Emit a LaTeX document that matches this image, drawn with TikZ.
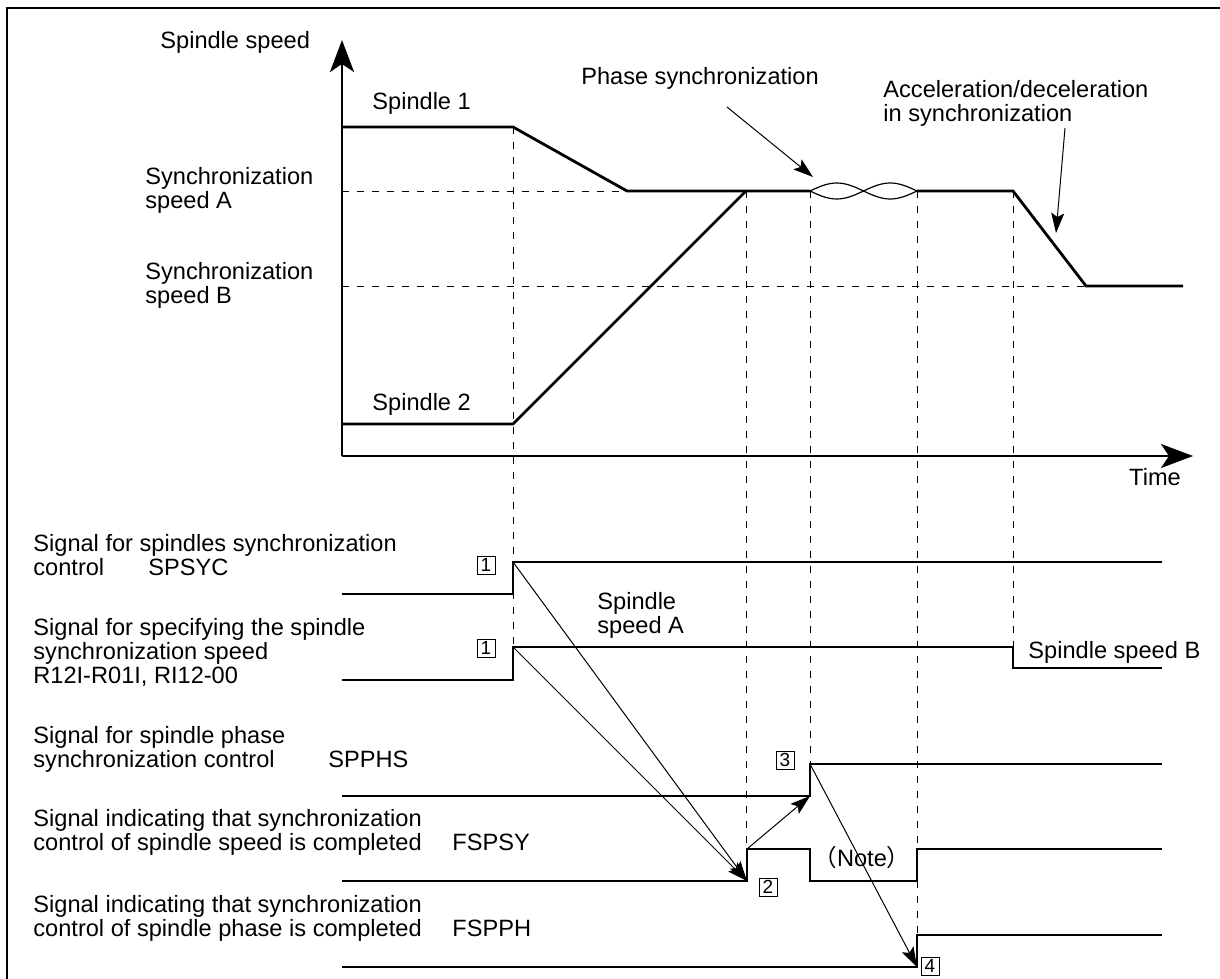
\documentclass[tikz,border=0pt]{standalone}
\usepackage{fontspec}
\setmainfont{Liberation Sans}
\newfontfamily\cjkfont{Noto Sans CJK JP}
\usetikzlibrary{arrows.meta}
\begin{document}
\begin{tikzpicture}[x=0.5pt,y=-0.5pt,
  sig/.style={line width=1.4pt,line join=miter},
  axis/.style={line width=1.4pt,-{Stealth[length=16pt,width=12pt,inset=4pt]}},
  guide/.style={line width=0.5pt,dash pattern=on 3.5pt off 4pt},
  ptr/.style={line width=0.5pt,-{Stealth[length=10pt,width=6.5pt,inset=2pt]}},
  lbl/.style={font=\fontsize{11.8}{12}\selectfont, inner sep=0pt, align=left, anchor=west},
  bl/.style={font=\fontsize{11.8}{12}\selectfont, inner sep=0pt, anchor=base west},
  num/.style={draw,line width=0.4pt,minimum size=9pt,inner sep=0pt,font=\fontsize{9.5}{10}\selectfont}
]
\useasboundingbox (0,0) rectangle (1220,979);
\draw[line width=0.6pt] (7,979) -- (7,8) -- (1220,8);

% axes
\coordinate (O) at (342,456);
\coordinate (Ytop) at (342,40);
\coordinate (Xend) at (1193,456);
\draw[axis] (O) -- (Ytop);
\draw[axis] (O) -- (Xend);

% guides
\draw[guide] (342,191) -- (627,191);
\draw[guide] (342,286) -- (1086,286);
\draw[guide] (513,127) -- (513,647);
\draw[guide] (746,191) -- (746,849);
\draw[guide] (810,191) -- (810,764);
\draw[guide] (917,191) -- (917,935);
\draw[guide] (1013,191) -- (1013,647);

% spindle speeds
\draw[sig] (342,127) -- (513,127) -- (627,191) -- (810,191);
\draw[sig] (917,191) -- (1013,191) -- (1086,286) -- (1183,286);
\draw[sig] (342,424) -- (513,424) -- (746,191);
\draw[line width=0.6pt] (810,191) sin (836.75,183) cos (863.5,191) sin (890.25,183) cos (917,191);
\draw[line width=0.6pt] (810,191) sin (836.75,199) cos (863.5,191) sin (890.25,199) cos (917,191);

% signals
\draw[sig] (342,594) -- (513,594) -- (513,562) -- (1162,562);
\draw[sig] (342,680) -- (513,680) -- (513,647) -- (1013,647) -- (1013,668) -- (1162,668);
\draw[sig] (342,796) -- (810,796) -- (810,764) -- (1162,764);
\draw[sig] (342,881) -- (747,881) -- (747,849) -- (810,849) -- (810,881) -- (917,881) -- (917,849) -- (1162,849);
\draw[sig] (342,967) -- (917,967) -- (917,935) -- (1162,935);

% labels top
\node[lbl] (ysp) at (160,42) {Spindle speed};
\node[lbl] (sp1) at (372,103) {Spindle 1};
\node[lbl] (sp2) at (372,404) {Spindle 2};
\node[lbl] (ssa) at (145,190) {Synchronization\\speed A};
\node[lbl] (ssb) at (145,285) {Synchronization\\speed B};
\node[lbl,anchor=center] (phs) at (700,78) {Phase synchronization};
\node[lbl] (acc) at (883,103) {Acceleration/deceleration\\in synchronization};
\node[lbl,anchor=center] (time) at (1155,477) {Time};

\coordinate (phsS) at (727,107);
\coordinate (phsE) at (813,177);
\draw[ptr] (phsS) -- (phsE);
\coordinate (accS) at (1065,128);
\coordinate (accE) at (1056,233);
\draw[ptr] (accS) -- (accE);

% signal labels
\node[bl] (l1a) at (33,551) {Signal for spindles synchronization};
\node[bl] (l1b) at (33,575) {control};
\node[bl] (n1) at (148,575) {SPSYC};
\node[bl] (l2a) at (33,635) {Signal for specifying the spindle};
\node[bl] (l2b) at (33,659) {synchronization speed};
\node[bl] (l2c) at (33,683) {R12I-R01I, RI12-00};
\node[bl] (l3a) at (33,743) {Signal for spindle phase};
\node[bl] (l3b) at (33,767) {synchronization control};
\node[bl] (n3) at (328,767) {SPPHS};
\node[bl] (l4a) at (33,826) {Signal indicating that synchronization};
\node[bl] (l4b) at (33,850) {control of spindle speed is completed};
\node[bl] (n4) at (452,850) {FSPSY};
\node[bl] (l5a) at (33,912) {Signal indicating that synchronization};
\node[bl] (l5b) at (33,936) {control of spindle phase is completed};
\node[bl] (n5) at (452,936) {FSPPH};

\node[lbl] (spa) at (597,615) {Spindle\\speed A};
\node[lbl] (spb) at (1028,652) {Spindle speed B};
\node[lbl,anchor=center] (note) at (862,858) {{\cjkfont （}Note{\cjkfont ）}};

% numbered boxes
\node[num] (b1a) at (486,565) {1};
\node[num] (b1b) at (486,648) {1};
\node[num] (b3) at (785,760) {3};
\node[num] (b2) at (768,887) {2};
\node[num] (b4) at (930,966) {4};

% causal arrows
\coordinate (syc) at (513,562);
\coordinate (spdA) at (513,647);
\coordinate (fsyA) at (747,881);
\coordinate (fsyB) at (747,849);
\coordinate (phA) at (810,796);
\coordinate (phB) at (810,764);
\coordinate (fphA) at (917,967);
\draw[ptr] (syc) -- (fsyA);
\draw[ptr] (spdA) -- (fsyA);
\draw[ptr] (fsyB) -- (phA);
\draw[ptr] (phB) -- (fphA);
\end{tikzpicture}
\end{document}
